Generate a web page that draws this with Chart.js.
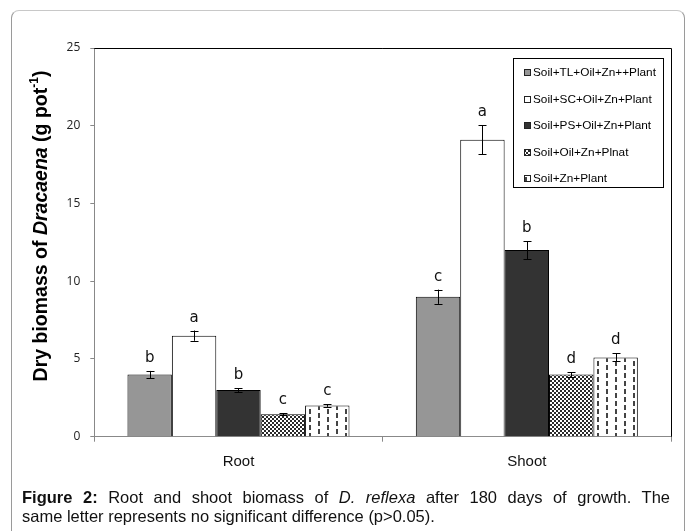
<!DOCTYPE html>
<html>
<head>
<meta charset="utf-8">
<script src="https://cdn.jsdelivr.net/npm/chart.js@4.4.0/dist/chart.umd.min.js"></script>
<style>
  html, body { margin: 0; padding: 0; background: #fff; }
  #wrap { position: relative; width: 685px; height: 531px; overflow: hidden; }
  #frame { position: absolute; left: 11px; top: 10px; width: 674px; height: 560px;
           border: 1px solid #9a9a9a; border-top-color: #c8c8c8; border-radius: 8px; box-sizing: border-box; }
  #c { position: absolute; left: 0; top: 0; }
  #cap { position: absolute; left: 22px; top: 488px; width: 648px; font-family: "Liberation Sans", Arial, sans-serif;
         font-size: 16.5px; line-height: 19px; color: #111; }
  #cap .l1 { text-align: justify; text-align-last: justify; white-space: nowrap; }
  #cap .l2 { white-space: nowrap; }
</style>
</head>
<body>
<div id="wrap">
  <div id="frame"></div>
  <canvas id="c" width="685" height="531"></canvas>
  <div id="cap"><div class="l1"><b>Figure 2:</b> Root and shoot biomass of <i>D. reflexa</i> after 180 days of growth. The</div><div class="l2">same letter represents no significant difference (p&gt;0.05).</div></div>
</div>
<script>
// ---- data ----
const categories = ['Root', 'Shoot'];
const seriesNames = ['Soil+TL+Oil+Zn++Plant', 'Soil+SC+Oil+Zn+Plant', 'Soil+PS+Oil+Zn+Plant', 'Soil+Oil+Zn+Plnat', 'Soil+Zn+Plant'];
const tlValues    = [4.0, 9.0];
const scValues    = [6.5, 19.1];
const psValues    = [3.0, 12.0];
const oilZnValues = [1.45, 4.0];
const znValues    = [2.0, 5.1];
const tlErr    = [0.23, 0.46];
const scErr    = [0.33, 0.94];
const psErr    = [0.12, 0.57];
const oilZnErr = [0.06, 0.15];
const znErr    = [0.08, 0.26];
const tlLetters    = ['b', 'c'];
const scLetters    = ['a', 'a'];
const psLetters    = ['b', 'b'];
const oilZnLetters = ['c', 'd'];
const znLetters    = ['c', 'd'];
const yTicks = [0, 5, 10, 15, 20, 25];

// ---- patterns ----
function makePattern(w, h, draw) {
  const c = document.createElement('canvas'); c.width = w; c.height = h;
  const x = c.getContext('2d'); draw(x);
  return document.getElementById('c').getContext('2d').createPattern(c, 'repeat');
}
const checker = makePattern(4, 4, x => {
  x.fillStyle = '#2a2a2a'; x.fillRect(0, 0, 4, 4);
  x.fillStyle = '#ffffff'; x.fillRect(0, 0, 2, 2); x.fillRect(2, 2, 2, 2);
});
const dashes = makePattern(18, 16, x => {
  x.fillStyle = '#ffffff'; x.fillRect(0, 0, 18, 16);
  x.fillStyle = '#444444';
  x.fillRect(3, 1, 2, 5); x.fillRect(3, 9, 2, 5);
  x.fillRect(12, 5, 2, 5); x.fillRect(12, 13, 2, 3); x.fillRect(12, 0, 2, 2);
});

const fills = ['#969696', '#ffffff', '#333333', checker, dashes];
const valueSets = [tlValues, scValues, psValues, oilZnValues, znValues];
const errSets = [tlErr, scErr, psErr, oilZnErr, znErr];
const letterSets = [tlLetters, scLetters, psLetters, oilZnLetters, znLetters];

const datasets = seriesNames.map((n, i) => ({
  label: n, data: valueSets[i], backgroundColor: fills[i],
  borderColor: '#000', borderWidth: 1, borderSkipped: 'bottom',
  categoryPercentage: 0.77, barPercentage: 1.0
}));

const extras = {
  id: 'extras',
  afterDatasetsDraw(chart) {
    const ctx = chart.ctx, ys = chart.scales.y, a = chart.chartArea;
    ctx.save();
    // frame top/right
    ctx.strokeStyle = '#000'; ctx.lineWidth = 1;
    ctx.beginPath();
    ctx.moveTo(a.left, a.top + 0.5); ctx.lineTo(a.right + 0.5, a.top + 0.5); ctx.lineTo(a.right + 0.5, a.bottom);
    ctx.stroke();
    // error bars and letters
    chart.data.datasets.forEach((ds, i) => {
      const meta = chart.getDatasetMeta(i);
      meta.data.forEach((bar, j) => {
        const v = valueSets[i][j], e = errSets[i][j];
        const yt = ys.getPixelForValue(v + e), yb = ys.getPixelForValue(v - e);
        const x = Math.round(bar.x) + 0.5;
        ctx.strokeStyle = '#000'; ctx.lineWidth = 1;
        ctx.beginPath();
        ctx.moveTo(x, yt); ctx.lineTo(x, yb);
        ctx.moveTo(x - 4, Math.round(yt) + 0.5); ctx.lineTo(x + 4, Math.round(yt) + 0.5);
        ctx.moveTo(x - 4, Math.round(yb) + 0.5); ctx.lineTo(x + 4, Math.round(yb) + 0.5);
        ctx.stroke();
        ctx.fillStyle = '#111';
        ctx.font = '15px "DejaVu Sans", sans-serif';
        ctx.textAlign = 'center'; ctx.textBaseline = 'alphabetic';
        ctx.fillText(letterSets[i][j], bar.x, yt - 9);
      });
    });
    // legend
    const lx = 513.5, ly = 58.5, lw = 150, lh = 129;
    ctx.fillStyle = '#fff'; ctx.fillRect(lx, ly, lw, lh);
    ctx.strokeStyle = '#000'; ctx.strokeRect(lx, ly, lw, lh);
    ctx.font = '11.8px "Liberation Sans", Arial, sans-serif';
    ctx.textAlign = 'left'; ctx.textBaseline = 'middle';
    seriesNames.forEach((n, i) => {
      const cy = 72 + i * 26.5;
      ctx.fillStyle = fills[i];
      ctx.fillRect(524, Math.round(cy) - 3, 7, 7);
      ctx.strokeStyle = '#222';
      ctx.strokeRect(524.5, Math.round(cy) - 2.5, 6, 6);
      ctx.fillStyle = '#000';
      ctx.fillText(n, 533, cy + 1);
    });
    // y title
    ctx.save();
    ctx.translate(42, 226);
    ctx.rotate(-Math.PI / 2);
    const F = '"Liberation Sans", Arial, sans-serif';
    const parts = [
      ['bold 19.5px ' + F, 'Dry biomass of ', 0],
      ['bold italic 19.5px ' + F, 'Dracaena', 0],
      ['bold 19.5px ' + F, ' (g pot', 0],
      ['bold 12px ' + F, '-1', -7],
      ['bold 19.5px ' + F, ')', 0]
    ];
    let total = 0;
    parts.forEach(p => { ctx.font = p[0]; total += ctx.measureText(p[1]).width; });
    let px = -total / 2;
    ctx.fillStyle = '#000'; ctx.textAlign = 'left'; ctx.textBaseline = 'middle';
    parts.forEach(p => { ctx.font = p[0]; ctx.fillText(p[1], px, p[2]); px += ctx.measureText(p[1]).width; });
    ctx.restore();
    ctx.restore();
  }
};

new Chart(document.getElementById('c'), {
  type: 'bar',
  data: { labels: categories, datasets },
  options: {
    responsive: false, animation: false,
    layout: { padding: { left: 0, top: 48, right: 14, bottom: 54.3 } },
    plugins: { legend: { display: false }, tooltip: { enabled: false } },
    scales: {
      x: {
        grid: { drawOnChartArea: false, drawTicks: true, tickLength: 5, offset: true, color: '#888' },
        border: { color: '#888' },
        ticks: { font: { family: '"Liberation Sans", Arial, sans-serif', size: 15 }, color: '#111', padding: 11 },
        afterFit: s => { s.height = 40; }
      },
      y: {
        min: 0, max: 25,
        afterBuildTicks: s => { s.ticks = yTicks.map(v => ({ value: v })); },
        grid: { drawOnChartArea: false, drawTicks: true, tickLength: 4, color: '#888' },
        border: { color: '#888' },
        ticks: { font: { family: '"Open Sans", sans-serif', size: 12 }, color: '#222', padding: 10 },
        afterFit: s => { s.width = 94.3; }
      }
    }
  },
  plugins: [extras]
});
</script>
</body>
</html>
